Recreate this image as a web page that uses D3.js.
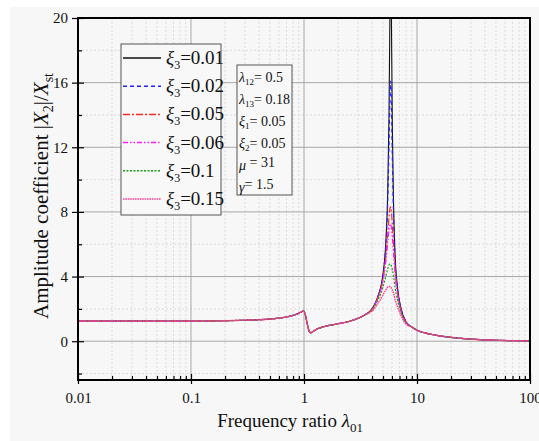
<!DOCTYPE html>
<html>
<head>
<meta charset="utf-8">
<script src="https://cdn.jsdelivr.net/npm/d3@7"></script>
<style>
  body { margin: 0; background: #ffffff; }
  svg { display: block; font-family: "Liberation Serif", "Times New Roman", serif; }
</style>
</head>
<body>
<div id="chart"></div>
<script>
// Frequency ratio values (x)
var freq = [0.01, 0.05, 0.1, 0.2, 0.3, 0.4, 0.5, 0.6, 0.7, 0.8,
  0.88, 0.94, 0.98, 1.0, 1.03, 1.06, 1.09, 1.12, 1.15, 1.2,
  1.3, 1.5, 2.0, 2.5, 3.0, 3.5,
  4.0, 4.5, 5.0, 5.3, 5.5, 5.65, 5.75, 5.8, 5.85, 5.9, 5.95, 6.05, 6.2, 6.4, 6.7, 7.2, 8.0,
  9, 10, 12, 15, 20, 30, 50, 100];

// shared part of the curves (below 4 and above 8)
var lowPart = [1.25, 1.25, 1.25, 1.27, 1.3, 1.33, 1.37, 1.43, 1.5, 1.6,
  1.7, 1.8, 1.86, 1.85, 1.6, 1.2, 0.8, 0.58, 0.52, 0.6,
  0.75, 0.9, 1.08, 1.22, 1.42, 1.65];
var tailPart = [0.88, 0.68, 0.5, 0.36, 0.24, 0.13, 0.06, 0.02];

// peak region, 4.0 .. 8.0, one array per damping value
var peak001 = [2.0, 2.76, 4.15, 6.13, 9.1, 13.9, 19.7, 22.8, 24.0, 22.4, 19.2, 13.3, 8.5, 5.3, 3.4, 2.07, 1.2];
var peak002 = [2.0, 2.74, 4.09, 5.94, 8.47, 11.9, 14.7, 15.8, 16.1, 15.6, 14.3, 11.3, 7.86, 5.1, 3.3, 2.05, 1.2];
var peak005 = [1.98, 2.68, 3.85, 5.2, 6.54, 7.66, 8.19, 8.32, 8.31, 8.18, 7.93, 7.2, 5.96, 4.4, 3.1, 1.9, 1.18];
var peak006 = [1.97, 2.66, 3.76, 4.95, 6.04, 6.85, 7.2, 7.26, 7.24, 7.14, 6.96, 6.43, 5.48, 4.15, 3.0, 1.88, 1.17];
var peak010 = [1.93, 2.53, 3.35, 4.03, 4.48, 4.72, 4.78, 4.78, 4.75, 4.7, 4.62, 4.42, 4.03, 3.3, 2.6, 1.78, 1.1];
var peak015 = [1.86, 2.33, 2.86, 3.18, 3.34, 3.39, 3.38, 3.37, 3.34, 3.31, 3.27, 3.17, 2.98, 2.58, 2.15, 1.6, 1.05];

var seriesNames = ["0.01", "0.02", "0.05", "0.06", "0.1", "0.15"];
var seriesPeaks = [peak001, peak002, peak005, peak006, peak010, peak015];
var seriesColors = ["#111111", "#1f1fff", "#ff2a2a", "#ff1aff", "#10a010", "#ff3d96"];
var seriesDash = ["", "4,3", "7,2,2,2", "5,2,1.5,2,1.5,2", "2,1.5", "1.6,0.8"];
var seriesWidth = [1.1, 1.1, 1.2, 1.2, 1.2, 1.4];

var xTicks = [0.01, 0.1, 1, 10, 100];
var yTicks = [0, 4, 8, 12, 16, 20];
var yMinor = [-2, 2, 6, 10, 14, 18];

var paramLines = [
  ["λ", "12", "= 0.5"],
  ["λ", "13", "= 0.18"],
  ["ξ", "1", "= 0.05"],
  ["ξ", "2", "= 0.05"],
  ["μ", "", " = 31"],
  ["γ", "", "= 1.5"]
];

// SVG area
var svgWidth = 539;
var svgHeight = 441;
var chartMargin = { top: 18, right: 9, bottom: 61, left: 78 };
var chartWidth = svgWidth - chartMargin.left - chartMargin.right;
var chartHeight = svgHeight - chartMargin.top - chartMargin.bottom;

var svg = d3.select("#chart").append("svg")
  .attr("width", svgWidth)
  .attr("height", svgHeight);

svg.append("rect").attr("x", 10).attr("y", 7)
  .attr("width", svgWidth - 10).attr("height", svgHeight - 7)
  .attr("fill", "#f7f7f7");

var chartGroup = svg.append("g")
  .attr("transform", `translate(${chartMargin.left}, ${chartMargin.top})`);

var xScale = d3.scaleLog().domain([0.01, 100]).range([0, chartWidth]);
var yScale = d3.scaleLinear().domain([-2.4, 20]).range([chartHeight, 0]);

// minor x ticks 2..9 per decade
var xMinor = [];
[0.01, 0.1, 1, 10].forEach(function(d) {
  for (var k = 2; k <= 9; k++) xMinor.push(d * k);
});

// grid lines
chartGroup.append("g")
  .selectAll("line").data(xMinor).enter().append("line")
  .attr("x1", d => xScale(d)).attr("x2", d => xScale(d))
  .attr("y1", 0).attr("y2", chartHeight)
  .attr("stroke", "#d4d4d4").attr("stroke-dasharray", "2,2").attr("stroke-width", 0.8);
chartGroup.append("g")
  .selectAll("line").data(yMinor).enter().append("line")
  .attr("x1", 0).attr("x2", chartWidth)
  .attr("y1", d => yScale(d)).attr("y2", d => yScale(d))
  .attr("stroke", "#d4d4d4").attr("stroke-dasharray", "2,2").attr("stroke-width", 0.8);
chartGroup.append("g")
  .selectAll("line").data(xTicks.slice(1, 4)).enter().append("line")
  .attr("x1", d => xScale(d)).attr("x2", d => xScale(d))
  .attr("y1", 0).attr("y2", chartHeight)
  .attr("stroke", "#a8a8a8").attr("stroke-width", 1);
chartGroup.append("g")
  .selectAll("line").data(yTicks.slice(0, 5)).enter().append("line")
  .attr("x1", 0).attr("x2", chartWidth)
  .attr("y1", d => yScale(d)).attr("y2", d => yScale(d))
  .attr("stroke", "#a8a8a8").attr("stroke-width", 1);

// curves
chartGroup.append("clipPath").attr("id", "plotClip")
  .append("rect").attr("width", chartWidth).attr("height", chartHeight);

var line = d3.line()
  .x(d => xScale(d[0]))
  .y(d => yScale(d[1]))
  .curve(d3.curveMonotoneX);

var curves = seriesPeaks.map(function(pk) {
  var ys = lowPart.concat(pk, tailPart);
  return freq.map((f, i) => [f, ys[i]]);
});

chartGroup.append("g").attr("clip-path", "url(#plotClip)")
  .selectAll("path").data(curves).enter().append("path")
  .attr("d", line)
  .attr("fill", "none")
  .attr("stroke", (d, i) => seriesColors[i])
  .attr("stroke-width", (d, i) => seriesWidth[i])
  .attr("stroke-dasharray", (d, i) => seriesDash[i]);

// axes
var xAxis = d3.axisBottom(xScale).tickValues(xTicks)
  .tickFormat(d => d >= 1 ? d3.format("d")(d) : String(d))
  .tickSizeInner(4).tickSizeOuter(0).tickPadding(8);
var yAxis = d3.axisLeft(yScale).tickValues(yTicks)
  .tickSizeInner(6).tickSizeOuter(0).tickPadding(4);

chartGroup.append("g")
  .attr("transform", `translate(0, ${chartHeight})`)
  .call(xAxis);
chartGroup.append("g").call(yAxis);

// inner ticks
chartGroup.append("g").attr("transform", `translate(0, ${chartHeight})`)
  .call(d3.axisBottom(xScale).tickValues(xTicks).tickSize(-6).tickFormat(""));
chartGroup.append("g").attr("transform", `translate(0, ${chartHeight})`)
  .call(d3.axisBottom(xScale).tickValues(xMinor).tickSize(-4).tickFormat(""));
chartGroup.append("g")
  .call(d3.axisLeft(yScale).tickValues(yTicks).tickSize(-6).tickFormat(""));
chartGroup.append("g")
  .call(d3.axisLeft(yScale).tickValues(yMinor).tickSize(-4).tickFormat(""));

chartGroup.selectAll(".domain").remove();
chartGroup.selectAll(".tick line").attr("stroke", "#000").attr("stroke-width", 1.2);
chartGroup.selectAll(".tick text")
  .attr("font-family", "Liberation Serif").attr("font-size", 15).attr("fill", "#111");

// frame
chartGroup.append("rect")
  .attr("width", chartWidth).attr("height", chartHeight)
  .attr("fill", "none").attr("stroke", "#000").attr("stroke-width", 2);

// axis titles
var yTitle = svg.append("text")
  .attr("transform", "translate(48, 196) rotate(-90)")
  .attr("text-anchor", "middle")
  .attr("font-size", 21).attr("fill", "#111");
yTitle.append("tspan").text("Amplitude coefficient |");
yTitle.append("tspan").attr("font-style", "italic").text("X");
yTitle.append("tspan").attr("font-size", 14).attr("dy", 5).text("2");
yTitle.append("tspan").attr("dy", -5).text("|/");
yTitle.append("tspan").attr("font-style", "italic").text("X");
yTitle.append("tspan").attr("font-size", 14).attr("dy", 5).text("st");

var xTitle = svg.append("text")
  .attr("x", 290).attr("y", 427)
  .attr("text-anchor", "middle")
  .attr("font-size", 19).attr("fill", "#111");
xTitle.append("tspan").text("Frequency ratio ");
xTitle.append("tspan").attr("font-style", "italic").text("λ");
xTitle.append("tspan").attr("font-size", 13).attr("dy", 5).text("01");

// legend
var legend = svg.append("g").attr("transform", "translate(121, 44)");
legend.append("rect").attr("width", 100).attr("height", 171)
  .attr("fill", "#f8f8f8").attr("stroke", "#555").attr("stroke-width", 1);
var items = legend.selectAll("g").data(seriesNames).enter().append("g")
  .attr("transform", (d, i) => `translate(0, ${14 + i * 28.2})`);
items.append("line")
  .attr("x1", 2).attr("x2", 40).attr("y1", 0).attr("y2", 0)
  .attr("stroke", (d, i) => seriesColors[i])
  .attr("stroke-width", (d, i) => seriesWidth[i] + 0.3)
  .attr("stroke-dasharray", (d, i) => seriesDash[i]);
var itemText = items.append("text").attr("x", 45).attr("y", 6)
  .attr("font-size", 19).attr("fill", "#111");
itemText.append("tspan").attr("font-style", "italic").text("ξ");
itemText.append("tspan").attr("font-size", 12).attr("dy", 5).text("3");
itemText.append("tspan").attr("dy", -5).text(d => "=" + d);

// parameter box
var params = svg.append("g").attr("transform", "translate(237, 65)");
params.append("rect").attr("width", 55).attr("height", 130)
  .attr("fill", "#f8f8f8").attr("stroke", "#555").attr("stroke-width", 1);
var pText = params.selectAll("text").data(paramLines).enter().append("text")
  .attr("x", 2).attr("y", (d, i) => 17 + i * 22)
  .attr("font-size", 14).attr("fill", "#111");
pText.append("tspan").attr("font-style", "italic").text(d => d[0]);
pText.append("tspan").attr("font-size", 9).attr("dy", 3).text(d => d[1]);
pText.append("tspan").attr("dy", -3).text(d => d[2]);
</script>
</body>
</html>
